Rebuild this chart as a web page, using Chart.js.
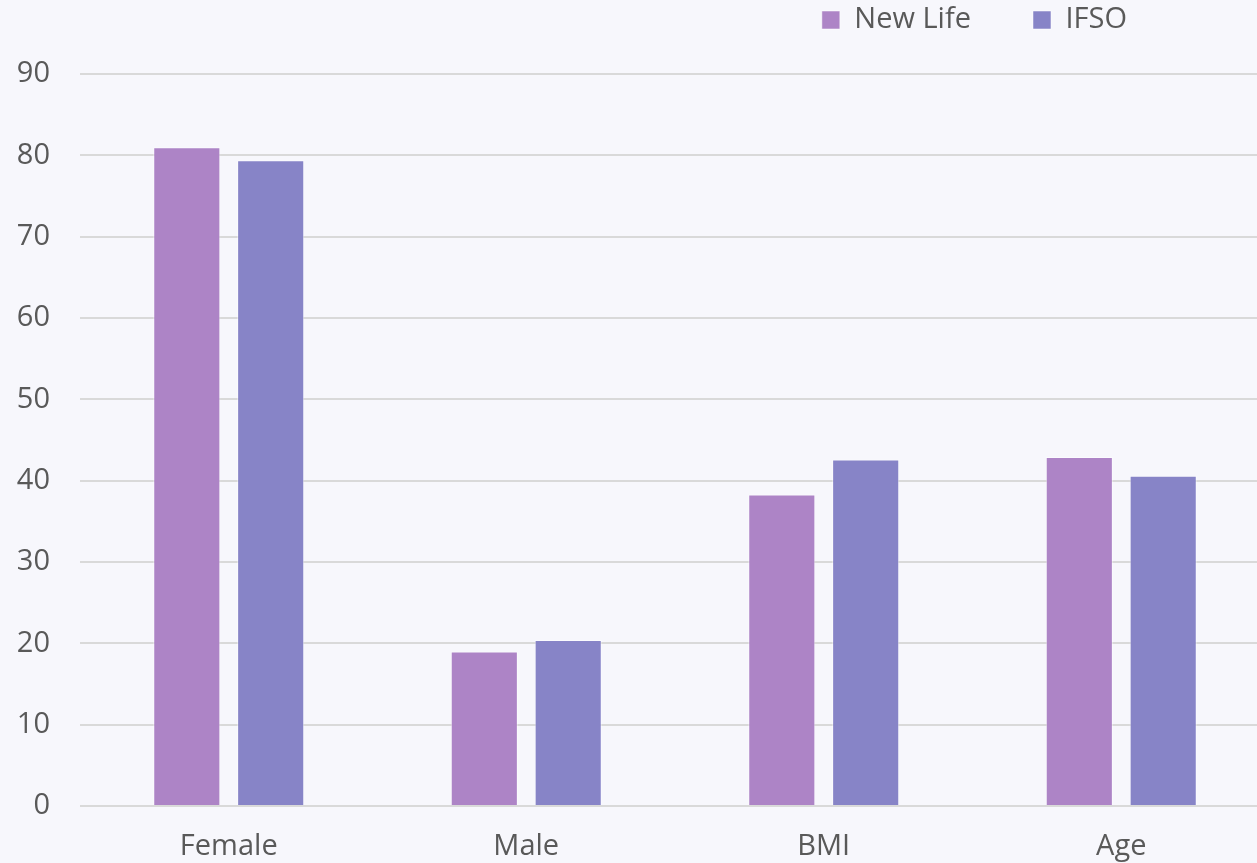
<!DOCTYPE html>
<html>
<head>
<meta charset="utf-8">
<script src="https://cdn.jsdelivr.net/npm/chart.js@4"></script>
<style>
  html, body { margin: 0; padding: 0; background: #f7f7fc; overflow: hidden; }
  /* plot runs a little past the right edge in the original, so the canvas is wider than the window */
  #wrap { width: 1270px; height: 863px; }
</style>
</head>
<body>
<div id="wrap"><canvas id="chart" width="1270" height="863"></canvas></div>
<script>
const categories = ["Female", "Male", "BMI", "Age"];
const newLife = [81, 19, 38.3, 42.9];
const ifso = [79.4, 20.4, 42.6, 40.6];
const yTicks = [0, 10, 20, 30, 40, 50, 60, 70, 80, 90];

const textColor = "#595959";
const fontFamily = "'Open Sans', 'Noto Sans', sans-serif";
const fontSize = 29;
const legendGap = 62;

// move the legend up and in from the right edge, chart area stays where it is
const legendNudge = {
  id: "legendNudge",
  afterLayout(chart) {
    const lg = chart.legend;
    lg.top = 20 - legendGap - fontSize / 2;
    lg.right = 1127 + legendGap;
  },
};

const ctx = document.getElementById("chart").getContext("2d");
const chart = new Chart(ctx, {
  type: "bar",
  data: {
    labels: categories,
    datasets: [
      {
        label: "New Life",
        data: newLife,
        backgroundColor: "#ad84c6",
        borderColor: "rgba(255,255,255,0.5)",
        borderWidth: 1,
      },
      {
        label: "IFSO",
        data: ifso,
        backgroundColor: "#8784c7",
        borderColor: "rgba(255,255,255,0.5)",
        borderWidth: 1,
      },
    ],
  },
  options: {
    responsive: false,
    animation: false,
    categoryPercentage: 0.564,
    barPercentage: 0.8,
    layout: {
      padding: { left: 17, right: 0, top: -27, bottom: 0 },
    },
    scales: {
      x: {
        grid: { display: false, drawTicks: false },
        border: { display: false },
        afterFit: (axis) => {
          axis.height = 57;
        },
        ticks: {
          color: textColor,
          padding: 23,
          font: { family: fontFamily, size: fontSize },
        },
      },
      y: {
        min: 0,
        max: 90,
        afterBuildTicks: (axis) => {
          axis.ticks = yTicks.map((v) => ({ value: v }));
        },
        afterFit: (axis) => {
          axis.width = 63;
        },
        grid: { color: "#d9d9d9", lineWidth: 2, drawTicks: false },
        border: { display: false },
        ticks: {
          color: textColor,
          padding: 30,
          font: { family: fontFamily, size: fontSize },
        },
      },
    },
    plugins: {
      legend: {
        position: "top",
        align: "end",
        labels: {
          color: textColor,
          boxWidth: 18,
          boxHeight: 18,
          padding: legendGap,
          font: { family: fontFamily, size: fontSize },
        },
      },
      tooltip: { enabled: false },
    },
  },
  plugins: [legendNudge],
});
</script>
</body>
</html>
